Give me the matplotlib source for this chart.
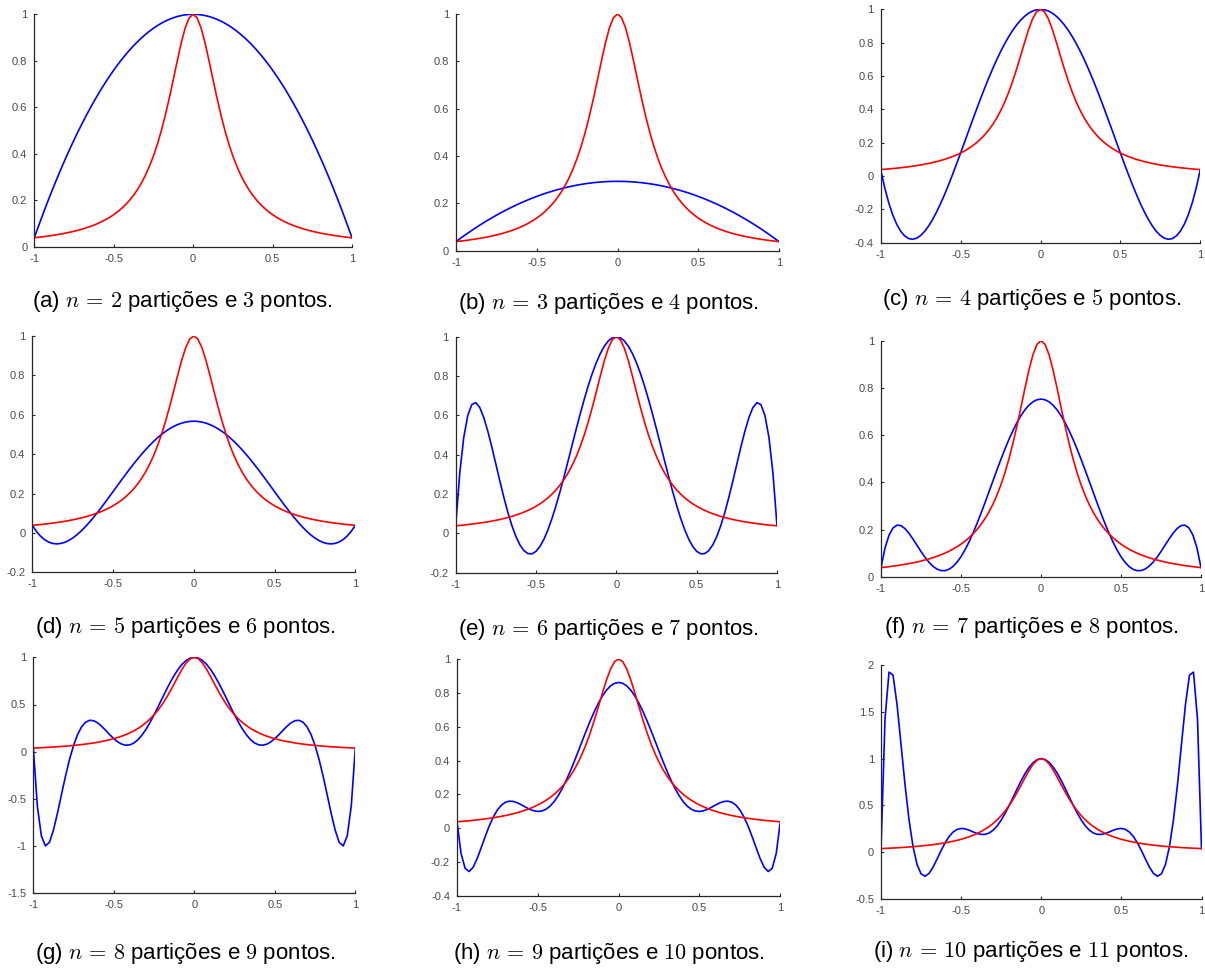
import numpy as np
import matplotlib
matplotlib.use("Agg")
import matplotlib.pyplot as plt

plt.rcParams['font.family'] = ['Liberation Sans', 'DejaVu Sans']
plt.rcParams['mathtext.fontset'] = 'cm'
plt.rcParams['axes.unicode_minus'] = False

# every curve is even in x, so only x >= 0 is stored (step 0.025)
x_half = [0.0, 0.025, 0.05, 0.075, 0.1, 0.125, 0.15, 0.175, 0.2, 0.225,
          0.25, 0.275, 0.3, 0.325, 0.35, 0.375, 0.4, 0.425, 0.45, 0.475,
          0.5, 0.525, 0.55, 0.575, 0.6, 0.625, 0.65, 0.675, 0.7, 0.725,
          0.75, 0.775, 0.8, 0.825, 0.85, 0.875, 0.9, 0.925, 0.95, 0.975, 1.0]

# red curve (the same in every panel)
f_red = [1.0, 0.9846, 0.9412, 0.8767, 0.8, 0.7191, 0.64, 0.5664, 0.5, 0.4414,
         0.3902, 0.3460, 0.3077, 0.2747, 0.2462, 0.2215, 0.2, 0.1813, 0.1649, 0.1506,
         0.1379, 0.1267, 0.1168, 0.1079, 0.1, 0.0929, 0.0865, 0.0807, 0.0755, 0.0707,
         0.0664, 0.0624, 0.0588, 0.0555, 0.0525, 0.0497, 0.0471, 0.0447, 0.0424, 0.0404, 0.0385]

# blue curves, one per panel
p2 = [1.0, 0.9994, 0.9976, 0.9946, 0.9904, 0.9850, 0.9784, 0.9706, 0.9615, 0.9513,
      0.9399, 0.9273, 0.9135, 0.8984, 0.8822, 0.8648, 0.8462, 0.8263, 0.8053, 0.7831,
      0.7596, 0.7350, 0.7091, 0.6821, 0.6538, 0.6244, 0.5938, 0.5619, 0.5288, 0.4946,
      0.4591, 0.4225, 0.3846, 0.3456, 0.3053, 0.2638, 0.2212, 0.1773, 0.1322, 0.0859, 0.0385]
p3 = [0.2930, 0.2928, 0.2924, 0.2916, 0.2904, 0.2890, 0.2873, 0.2852, 0.2828, 0.2801,
      0.2771, 0.2737, 0.2701, 0.2661, 0.2618, 0.2572, 0.2523, 0.2470, 0.2415, 0.2356,
      0.2294, 0.2228, 0.2160, 0.2088, 0.2014, 0.1936, 0.1855, 0.1770, 0.1683, 0.1592,
      0.1498, 0.1401, 0.1301, 0.1198, 0.1091, 0.0981, 0.0868, 0.0752, 0.0633, 0.0510, 0.0385]
p4 = [1.0, 0.9973, 0.9893, 0.9761, 0.9576, 0.9340, 0.9054, 0.8721, 0.8342, 0.7920,
      0.7456, 0.6955, 0.6419, 0.5852, 0.5258, 0.4641, 0.4005, 0.3356, 0.2698, 0.2038,
      0.1379, 0.0730, 0.0096, -0.0517, -0.1101, -0.1649, -0.2152, -0.2605, -0.2997, -0.3321,
      -0.3568, -0.3729, -0.3793, -0.3752, -0.3595, -0.3312, -0.2891, -0.2323, -0.1595, -0.0697, 0.0385]
p5 = [0.5673, 0.5662, 0.5630, 0.5576, 0.5501, 0.5406, 0.5290, 0.5154, 0.5, 0.4828,
      0.4638, 0.4433, 0.4213, 0.3979, 0.3733, 0.3477, 0.3212, 0.2939, 0.2661, 0.2380,
      0.2097, 0.1816, 0.1537, 0.1265, 0.1, 0.0746, 0.0506, 0.0282, 0.0078, -0.0104,
      -0.0260, -0.0386, -0.0481, -0.0539, -0.0558, -0.0533, -0.0460, -0.0337, -0.0157, 0.0082, 0.0385]
p6 = [1.0, 0.9945, 0.9782, 0.9513, 0.9142, 0.8678, 0.8128, 0.7503, 0.6813, 0.6073,
      0.5297, 0.4499, 0.3696, 0.2905, 0.2143, 0.1427, 0.0773, 0.0197, -0.0285, -0.0659,
      -0.0914, -0.1040, -0.1030, -0.0880, -0.0590, -0.0163, 0.0391, 0.1060, 0.1824, 0.2656,
      0.3523, 0.4385, 0.5191, 0.5884, 0.6396, 0.6647, 0.6546, 0.5993, 0.4870, 0.3048, 0.0385]
p7 = [0.7526, 0.7498, 0.7412, 0.7270, 0.7074, 0.6827, 0.6533, 0.6196, 0.5822, 0.5415,
      0.4983, 0.4532, 0.4069, 0.3602, 0.3138, 0.2685, 0.2252, 0.1844, 0.1470, 0.1136,
      0.0849, 0.0614, 0.0434, 0.0314, 0.0256, 0.0258, 0.0321, 0.0440, 0.0610, 0.0823,
      0.1067, 0.1330, 0.1593, 0.1837, 0.2037, 0.2164, 0.2185, 0.2063, 0.1756, 0.1214, 0.0385]
p8 = [1.0, 0.9918, 0.9674, 0.9277, 0.8740, 0.8083, 0.7328, 0.6503, 0.5636, 0.4759,
      0.3902, 0.3098, 0.2374, 0.1756, 0.1266, 0.0920, 0.0726, 0.0686, 0.0794, 0.1033,
      0.1379, 0.1799, 0.2251, 0.2686, 0.3049, 0.3283, 0.3327, 0.3128, 0.2638, 0.1821,
      0.0664, -0.0822, -0.2587, -0.4537, -0.6519, -0.8310, -0.9601, -0.9980, -0.8917, -0.5740, 0.0385]
p9 = [0.8615, 0.8564, 0.8411, 0.8160, 0.7820, 0.7398, 0.6907, 0.6361, 0.5775, 0.5164,
      0.4546, 0.3938, 0.3356, 0.2816, 0.2330, 0.1911, 0.1566, 0.1303, 0.1122, 0.1021,
      0.0995, 0.1034, 0.1123, 0.1244, 0.1377, 0.1497, 0.1581, 0.1603, 0.1540, 0.1371,
      0.1084, 0.0673, 0.0147, -0.0472, -0.1138, -0.1781, -0.2300, -0.2554, -0.2360, -0.1480, 0.0385]
p10 = [1.0, 0.9895, 0.9586, 0.9090, 0.8434, 0.7653, 0.6790, 0.5890, 0.5, 0.4166,
       0.3426, 0.2815, 0.2354, 0.2052, 0.1906, 0.1899, 0.2, 0.2167, 0.2350, 0.2492,
       0.2538, 0.2438, 0.2156, 0.1674, 0.1, 0.0175, -0.0726, -0.1588, -0.2262, -0.2569,
       -0.2315, -0.1312, 0.0588, 0.3450, 0.7195, 1.1517, 1.5787, 1.8924, 1.9236, 1.4222, 0.0385]

blue = [p2, p3, p4, p5, p6, p7, p8, p9, p10]
letters = ["a", "b", "c", "d", "e", "f", "g", "h", "i"]
n_parts = [2, 3, 4, 5, 6, 7, 8, 9, 10]
y_ranges = [(0, 1), (0, 1), (-0.4, 1), (-0.2, 1), (-0.2, 1), (0, 1), (-1.5, 1), (-0.4, 1), (-0.5, 2)]
y_steps = [0.2, 0.2, 0.2, 0.2, 0.2, 0.2, 0.5, 0.2, 0.5]

# axes boxes in pixels: left, right, top, bottom
boxes = [(34.3, 352, 14.3, 246.7), (456, 779, 14, 250.7), (880.7, 1200.3, 9.3, 242.7),
         (32.3, 355.3, 336, 572.3), (455.7, 777, 336.7, 572.7), (881, 1201, 340.7, 576.7),
         (33.3, 355.3, 657.3, 893.3), (457, 780.3, 659, 896), (881, 1201.5, 665, 899)]
captions_xy = [(182, 302), (608, 303), (1032, 300), (185, 628), (608, 629), (1031, 628),
               (185, 953), (609, 953), (1031, 952)]


def full(half, sign=1):
    h = np.asarray(half, dtype=float)
    return np.concatenate([sign * h[:0:-1], h])


def fmt(v):
    s = ("%.1f" % v).rstrip("0").rstrip(".")
    return "0" if s in ("-0", "") else s


W, H = 1205, 968
fig = plt.figure(figsize=(W / 100, H / 100), dpi=100)

x_all = full(x_half, -1)
for k in range(9):
    l, r, t, b = boxes[k]
    ax = fig.add_axes([l / W, 1 - b / H, (r - l) / W, (b - t) / H])
    ax.plot(x_all, full(blue[k]), color="#0000ff", lw=1.2)
    ax.plot(x_all, full(f_red), color="#ff0000", lw=1.2)
    ax.set_xlim(-1, 1)
    y0, y1 = y_ranges[k]
    ax.set_ylim(y0, y1)
    xt = [-1, -0.5, 0, 0.5, 1]
    ax.set_xticks(xt)
    ax.set_xticklabels([fmt(v) for v in xt])
    yt = np.round(np.arange(y0, y1 + 1e-9, y_steps[k]), 2)
    ax.set_yticks(yt)
    ax.set_yticklabels([fmt(v) for v in yt])
    for s in ["top", "right"]:
        ax.spines[s].set_visible(False)
    for s in ["left", "bottom"]:
        ax.spines[s].set_color("#262626")
        ax.spines[s].set_linewidth(0.9)
    ax.tick_params(direction="in", length=2.5, width=0.8, color="#262626",
                   labelsize=8, labelcolor="#4a4a4a", pad=5)
    cx, cy = captions_xy[k]
    fig.text(cx / W, 1 - cy / H,
             r"(%s) $n\,=\,%d$ partições e $%d$ pontos." % (letters[k], n_parts[k], n_parts[k] + 1),
             ha="center", va="center", fontsize=16, color="black")

fig.savefig("out.png", dpi=100)
